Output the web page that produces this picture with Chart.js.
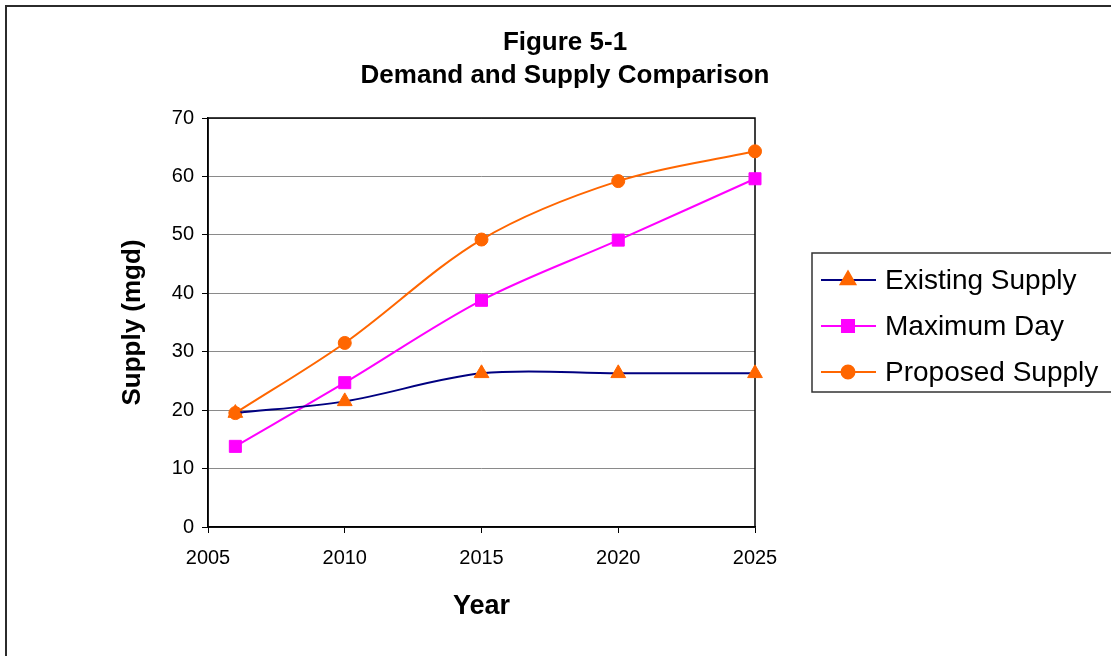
<!DOCTYPE html>
<html>
<head>
<meta charset="utf-8">
<title>Demand and Supply Comparison</title>
<script src="https://cdn.jsdelivr.net/npm/chart.js@4.4.1/dist/chart.umd.min.js"></script>
<style>
  html, body { margin: 0; padding: 0; background: #ffffff; overflow: hidden; }
  #wrap { width: 1111px; height: 656px; position: relative; }
  canvas { display: block; }
</style>
</head>
<body>
<div id="wrap"><canvas id="chart" width="1111" height="656"></canvas></div>
<script>
// Planning years and supply / demand figures (million gallons per day)
const years = [2006, 2010, 2015, 2020, 2025];
const existingSupply = [19.5, 21.5, 26.3, 26.3, 26.3];
const maximumDay = [13.8, 24.7, 38.8, 49.1, 59.6];
const proposedSupply = [19.5, 31.5, 49.2, 59.2, 64.3];

const seriesNames = ['Existing Supply', 'Maximum Day', 'Proposed Supply'];
const titleLines = ['Figure 5-1', 'Demand and Supply Comparison'];
const xAxisTitle = 'Year';
const yAxisTitle = 'Supply (mgd)';
const xRange = [2005, 2025];
const yRange = [0, 70];

const FONT = "'Liberation Sans', Arial, Helvetica, sans-serif";

function toPoints(values) {
  return years.map((yr, i) => ({ x: yr, y: values[i] }));
}

// Outer frame, heading, plot border and the boxed legend
const decorations = {
  id: 'decorations',
  beforeDraw(chart) {
    const ctx = chart.ctx;
    ctx.save();
    ctx.fillStyle = '#ffffff';
    ctx.fillRect(0, 0, chart.width, chart.height);
    ctx.strokeStyle = '#2b2b2b';
    ctx.lineWidth = 2;
    ctx.strokeRect(6, 6, chart.width + 20, chart.height + 20);
    ctx.restore();
  },
  beforeDatasetsDraw(chart) {
    const { ctx, chartArea: a } = chart;
    ctx.save();
    ctx.strokeStyle = '#000000';
    ctx.lineWidth = 1.5;
    ctx.strokeRect(a.left, a.top, a.right - a.left, a.bottom - a.top);
    ctx.restore();
  },
  afterDraw(chart) {
    const ctx = chart.ctx;
    ctx.save();
    // heading
    ctx.fillStyle = '#000000';
    ctx.font = 'bold 26px ' + FONT;
    ctx.textAlign = 'center';
    ctx.textBaseline = 'alphabetic';
    ctx.fillText(titleLines[0], 565, 50);
    ctx.fillText(titleLines[1], 565, 83);

    // legend box
    ctx.strokeStyle = '#333333';
    ctx.lineWidth = 1.5;
    ctx.strokeRect(812, 253, 330, 139);
    const rowY = [280, 326, 372];
    chart.data.datasets.forEach((ds, i) => {
      const y = rowY[i];
      ctx.strokeStyle = ds.borderColor;
      ctx.lineWidth = ds.borderWidth;
      ctx.beginPath();
      ctx.moveTo(821, y);
      ctx.lineTo(876, y);
      ctx.stroke();
      const style = {
        pointStyle: ds.pointStyle,
        radius: ds.pointRadius,
        borderWidth: 1,
        rotation: 0
      };
      ctx.fillStyle = ds.pointBackgroundColor;
      ctx.strokeStyle = ds.pointBorderColor;
      if (Chart.helpers && Chart.helpers.drawPoint) {
        Chart.helpers.drawPoint(ctx, style, 848, y);
      }
      ctx.fillStyle = '#000000';
      ctx.font = '28px ' + FONT;
      ctx.textAlign = 'left';
      ctx.textBaseline = 'middle';
      ctx.fillText(ds.label, 885, y + 1);
    });
    ctx.restore();
  }
};

Chart.defaults.font.family = FONT;
Chart.defaults.color = '#000000';

new Chart(document.getElementById('chart'), {
  type: 'line',
  data: {
    datasets: [
      {
        label: seriesNames[0],
        data: toPoints(existingSupply),
        borderColor: '#000080',
        borderWidth: 2,
        pointStyle: 'triangle',
        pointRadius: 8.5,
        pointBackgroundColor: '#FF6600',
        pointBorderColor: '#FF6600',
        pointBorderWidth: 1,
        tension: 0.33,
        clip: false
      },
      {
        label: seriesNames[1],
        data: toPoints(maximumDay),
        borderColor: '#FF00FF',
        borderWidth: 2,
        pointStyle: 'rect',
        pointRadius: 8.5,
        pointBackgroundColor: '#FF00FF',
        pointBorderColor: '#FF00FF',
        pointBorderWidth: 1,
        tension: 0.33,
        clip: false
      },
      {
        label: seriesNames[2],
        data: toPoints(proposedSupply),
        borderColor: '#FF6600',
        borderWidth: 2,
        pointStyle: 'circle',
        pointRadius: 6.5,
        pointBackgroundColor: '#FF6600',
        pointBorderColor: '#FF6600',
        pointBorderWidth: 1,
        tension: 0.33,
        clip: false
      }
    ]
  },
  options: {
    responsive: false,
    animation: false,
    devicePixelRatio: 1,
    layout: { padding: { left: 0, top: 118, right: 356, bottom: 0 } },
    plugins: {
      legend: { display: false },
      title: { display: false },
      tooltip: { enabled: false }
    },
    scales: {
      x: {
        type: 'linear',
        min: xRange[0],
        max: xRange[1],
        afterFit(scale) { scale.height = 129; },
        ticks: {
          stepSize: 5,
          font: { size: 20 },
          padding: 13,
          maxRotation: 0,
          callback: v => String(v)
        },
        grid: {
          drawOnChartArea: false,
          tickLength: 6,
          tickColor: '#000000'
        },
        border: { display: true, color: '#000000', width: 1.5 },
        title: {
          display: true,
          text: xAxisTitle,
          font: { size: 27, weight: 'bold' },
          padding: { top: 0, bottom: 33 }
        }
      },
      y: {
        min: yRange[0],
        max: yRange[1],
        afterFit(scale) { scale.width = 208; },
        ticks: {
          stepSize: 10,
          font: { size: 20 },
          padding: 8
        },
        grid: {
          color: '#8a8a8a',
          lineWidth: 1,
          tickLength: 6,
          tickColor: '#000000'
        },
        border: { display: true, color: '#000000', width: 1.5 },
        title: {
          display: true,
          text: yAxisTitle,
          font: { size: 26, weight: 'bold' },
          padding: { top: 117, bottom: 0 }
        }
      }
    }
  },
  plugins: [decorations]
});
</script>
</body>
</html>
